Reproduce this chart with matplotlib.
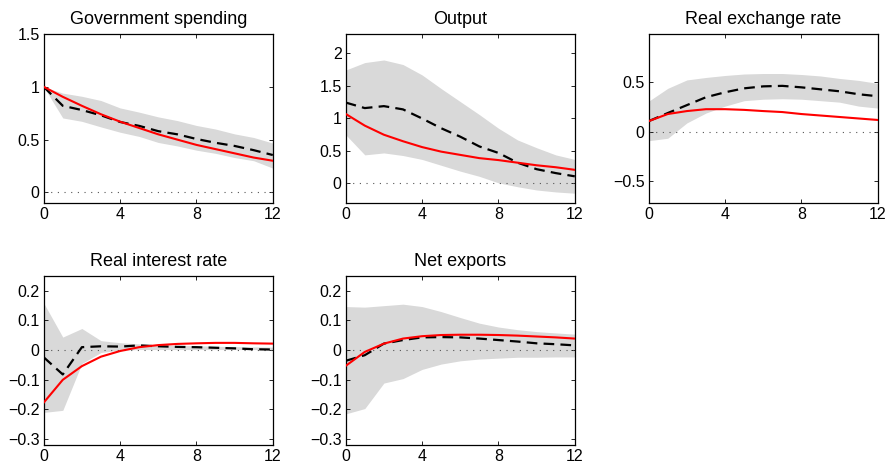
import numpy as np
import matplotlib.pyplot as plt

plt.rcParams['font.family'] = ['Liberation Sans', 'DejaVu Sans']

# horizon (quarters)
t = np.arange(13)

titles = ['Government spending', 'Output', 'Real exchange rate',
          'Real interest rate', 'Net exports']

# government spending
g_red = [1.00, 0.905, 0.82, 0.74, 0.67, 0.61, 0.55, 0.50, 0.45, 0.41, 0.37, 0.33, 0.30]
g_dash = [1.00, 0.82, 0.78, 0.73, 0.667, 0.63, 0.58, 0.55, 0.506, 0.47, 0.44, 0.40, 0.354]
g_hi = [1.00, 0.94, 0.91, 0.87, 0.80, 0.76, 0.715, 0.68, 0.634, 0.60, 0.554, 0.52, 0.467]
g_lo = [1.00, 0.705, 0.673, 0.62, 0.57, 0.53, 0.473, 0.44, 0.40, 0.37, 0.33, 0.30, 0.23]

# output
y_red = [1.07, 0.89, 0.75, 0.65, 0.56, 0.49, 0.44, 0.39, 0.36, 0.32, 0.28, 0.25, 0.21]
y_dash = [1.245, 1.16, 1.19, 1.14, 1.00, 0.85, 0.72, 0.57, 0.47, 0.32, 0.22, 0.16, 0.11]
y_hi = [1.745, 1.86, 1.90, 1.83, 1.67, 1.46, 1.26, 1.06, 0.85, 0.67, 0.55, 0.44, 0.37]
y_lo = [0.75, 0.44, 0.47, 0.43, 0.37, 0.28, 0.19, 0.11, 0.01, -0.05, -0.10, -0.13, -0.15]

# real exchange rate
q_red = [0.108, 0.18, 0.21, 0.229, 0.229, 0.222, 0.21, 0.20, 0.18, 0.165, 0.15, 0.135, 0.12]
q_dash = [0.108, 0.19, 0.27, 0.35, 0.40, 0.44, 0.46, 0.465, 0.45, 0.43, 0.41, 0.38, 0.36]
q_hi = [0.31, 0.44, 0.525, 0.55, 0.57, 0.585, 0.59, 0.59, 0.58, 0.565, 0.54, 0.52, 0.49]
q_lo = [-0.09, -0.065, 0.09, 0.19, 0.26, 0.315, 0.33, 0.335, 0.33, 0.315, 0.30, 0.26, 0.24]

# real interest rate
r_red = [-0.177, -0.10, -0.054, -0.022, -0.003, 0.010, 0.017, 0.021, 0.023, 0.0245, 0.0245, 0.023, 0.022]
r_dash = [-0.024, -0.082, 0.010, 0.013, 0.012, 0.016, 0.013, 0.011, 0.010, 0.008, 0.006, 0.003, 0.002]
r_hi = [0.159, 0.044, 0.073, 0.032, 0.025, 0.021, 0.018, 0.016, 0.015, 0.013, 0.012, 0.011, 0.010]
r_lo = [-0.21, -0.203, -0.045, -0.008, 0.0, 0.002, 0.002, 0.002, 0.002, 0.002, 0.002, 0.002, 0.002]

# net exports
nx_red = [-0.053, -0.006, 0.022, 0.039, 0.047, 0.051, 0.052, 0.052, 0.051, 0.049, 0.046, 0.043, 0.039]
nx_dash = [-0.036, -0.017, 0.022, 0.034, 0.043, 0.044, 0.043, 0.039, 0.034, 0.029, 0.023, 0.020, 0.016]
nx_hi = [0.147, 0.145, 0.150, 0.155, 0.147, 0.13, 0.11, 0.091, 0.078, 0.069, 0.0625, 0.058, 0.054]
nx_lo = [-0.215, -0.197, -0.111, -0.096, -0.065, -0.047, -0.036, -0.030, -0.027, -0.024, -0.024, -0.023, -0.023]

panels = [
    (g_red, g_dash, g_hi, g_lo, (-0.1, 1.5), [0, 0.5, 1, 1.5], ['0', '0.5', '1', '1.5']),
    (y_red, y_dash, y_hi, y_lo, (-0.3, 2.3), [0, 0.5, 1, 1.5, 2], ['0', '0.5', '1', '1.5', '2']),
    (q_red, q_dash, q_hi, q_lo, (-0.72, 0.99), [-0.5, 0, 0.5], ['\u22120.5', '0', '0.5']),
    (r_red, r_dash, r_hi, r_lo, (-0.32, 0.25), [-0.3, -0.2, -0.1, 0, 0.1, 0.2],
     ['\u22120.3', '\u22120.2', '\u22120.1', '0', '0.1', '0.2']),
    (nx_red, nx_dash, nx_hi, nx_lo, (-0.32, 0.25), [-0.3, -0.2, -0.1, 0, 0.1, 0.2],
     ['\u22120.3', '\u22120.2', '\u22120.1', '0', '0.1', '0.2']),
]

# axes boxes in figure fractions
lefts = [0.0492, 0.3893, 0.7305, 0.0492, 0.3893]
bottoms = [0.5644, 0.5644, 0.5644, 0.045, 0.045]
w, h = 0.258, 0.3627

fig = plt.figure(figsize=(8.88, 4.66), dpi=100)

for i, (red, dash, hi, lo, ylim, yt, ytl) in enumerate(panels):
    ax = fig.add_axes([lefts[i], bottoms[i], w, h])
    ax.fill_between(t, lo, hi, color='#d9d9d9', lw=0, zorder=1)
    ax.plot([0, 12], [0, 0], color='#555555', lw=0.8, linestyle=(0, (1, 5)), zorder=2)
    ax.plot(t, dash, color='black', lw=1.6, dashes=(4.8, 2.8), zorder=3)
    ax.plot(t, red, color='red', lw=1.5, zorder=4)
    ax.set_xlim(0, 12)
    ax.set_ylim(*ylim)
    ax.set_xticks([0, 4, 8, 12])
    ax.set_yticks(yt)
    ax.set_yticklabels(ytl)
    ax.tick_params(direction='in', top=True, right=True, length=3, width=0.6,
                   labelsize=11.5, pad=3)
    for s in ax.spines.values():
        s.set_linewidth(0.9)
    ax.set_title(titles[i], fontsize=13, pad=7)

plt.savefig('out.png', dpi=100)
